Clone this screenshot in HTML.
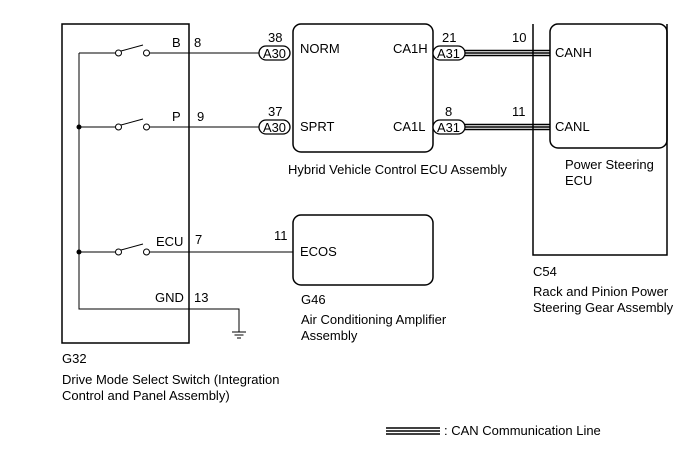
<!DOCTYPE html>
<html><head><style>
body{margin:0;background:#fff;}
svg text{font-family:"Liberation Sans",Arial,sans-serif;font-size:13px;fill:#000;}
svg text.s{font-size:12.5px;}
</style></head><body>
<svg width="688" height="463" viewBox="0 0 688 463">
<g fill="none" stroke="#000">
<rect x="62" y="24" width="127" height="319" stroke-width="1.5"/>
<rect x="293" y="24" width="140" height="128" rx="8" stroke-width="1.5"/>
<rect x="293" y="215" width="140" height="70" rx="8" stroke-width="1.5"/>
<path d="M533 24 V255 H667 V24" stroke-width="1.5"/>
<rect x="550" y="24" width="117" height="124" rx="8" stroke-width="1.5"/>
<g stroke-width="1">
<path d="M79 53 V309 H239 V332"/>
<path d="M79 53 H116 M149 53 H260"/>
<path d="M79 127 H116 M149 127 H260"/>
<path d="M79 252 H116 M149 252 H293"/>
<path d="M121 51 L143 45 M121 125 L143 119 M121 250 L143 244"/>
<path d="M232 332 H246 M234.5 335 H243.5 M237 338 H241"/>
</g>
<g fill="#fff" stroke-width="1"><circle cx="118.5" cy="53" r="3"/><circle cx="146.5" cy="53" r="3"/>
<circle cx="118.5" cy="127" r="3"/><circle cx="146.5" cy="127" r="3"/>
<circle cx="118.5" cy="252" r="3"/><circle cx="146.5" cy="252" r="3"/></g>
<path d="M465 50.5 H550 M465 53 H550 M465 55.5 H550 M465 124.5 H550 M465 127 H550 M465 129.5 H550 M386 428 H440 M386 431 H440 M386 434 H440" stroke-width="1.4"/>
<g stroke-width="1.3" fill="#fff">
<rect x="259" y="46" width="31" height="14" rx="7"/><rect x="259" y="120" width="31" height="14" rx="7"/>
<rect x="433" y="46" width="32" height="14" rx="7"/><rect x="433" y="120" width="32" height="14" rx="7"/>
</g>
</g>
<g fill="#000"><circle cx="79" cy="127" r="2.5"/><circle cx="79" cy="252" r="2.5"/></g>
<text x="172" y="47">B</text><text x="194" y="47">8</text>
<text x="172" y="121">P</text><text x="197" y="121">9</text>
<text x="156" y="246">ECU</text><text x="195" y="244">7</text>
<text x="155" y="302">GND</text><text x="194" y="302">13</text>
<text x="268" y="42">38</text><text x="268" y="116">37</text>
<text class="s" x="263" y="58" textLength="23" lengthAdjust="spacingAndGlyphs">A30</text><text class="s" x="263" y="132" textLength="23" lengthAdjust="spacingAndGlyphs">A30</text>
<text x="300" y="53">NORM</text><text x="300" y="131">SPRT</text>
<text x="393" y="53">CA1H</text><text x="393" y="131">CA1L</text>
<text x="442" y="42">21</text><text x="445" y="116">8</text>
<text class="s" x="437" y="58" textLength="23" lengthAdjust="spacingAndGlyphs">A31</text><text class="s" x="437" y="132" textLength="23" lengthAdjust="spacingAndGlyphs">A31</text>
<text x="512" y="42">10</text><text x="512" y="116">11</text>
<text x="555" y="57">CANH</text><text x="555" y="131">CANL</text>
<text x="288" y="174">Hybrid Vehicle Control ECU Assembly</text>
<text x="565" y="169">Power Steering</text><text x="565" y="185">ECU</text>
<text x="274" y="240">11</text><text x="300" y="256">ECOS</text>
<text x="301" y="304">G46</text><text x="301" y="324">Air Conditioning Amplifier</text><text x="301" y="340">Assembly</text>
<text x="533" y="276">C54</text><text x="533" y="296">Rack and Pinion Power</text><text x="533" y="312">Steering Gear Assembly</text>
<text x="62" y="363">G32</text><text x="62" y="384">Drive Mode Select Switch (Integration</text><text x="62" y="400">Control and Panel Assembly)</text>
<text x="444" y="435">: CAN Communication Line</text>
</svg>
</body></html>
